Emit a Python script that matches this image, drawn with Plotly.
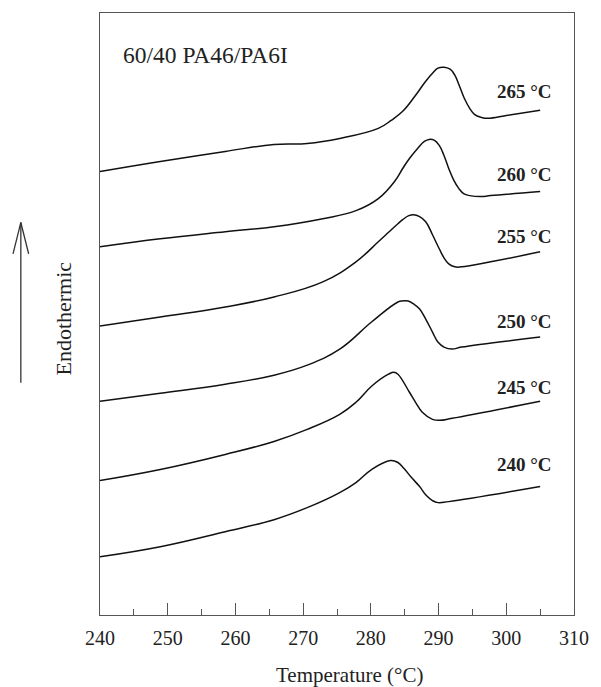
import plotly.graph_objects as go

# Temperature axis values (°C) and heat-flow (arbitrary units) for each annealing temperature
x_265 = [240, 248.9, 258.5, 265.7, 270.6, 275.4, 281.1, 283.0, 284.7, 286.5, 288.1, 289.1, 289.9, 290.8, 291.7, 292.4, 293.1, 293.8, 294.6, 295.3, 296.3, 297.3, 300.2, 305]
y_265 = [44.2, 45.2, 46.2, 46.9, 47.0, 47.5, 48.5, 49.3, 50.2, 51.7, 53.2, 54.0, 54.5, 54.6, 54.4, 53.8, 52.7, 51.5, 50.5, 49.9, 49.6, 49.5, 49.8, 50.3]

x_260 = [240, 248.9, 258.5, 265.7, 272.9, 277.8, 281.1, 283.6, 284.7, 285.7, 286.9, 287.9, 288.6, 289.4, 290.1, 290.8, 291.5, 292.2, 293.0, 293.7, 294.6, 296.3, 297.7, 305]
y_260 = [36.7, 37.5, 38.2, 38.7, 39.5, 40.3, 41.5, 43.3, 44.5, 45.5, 46.5, 47.2, 47.4, 47.3, 46.8, 45.8, 44.5, 43.4, 42.5, 42.0, 41.8, 41.7, 41.8, 42.2]

x_255 = [240, 248.9, 258.5, 265.7, 272.9, 277.8, 281.1, 282.7, 284.0, 284.7, 285.6, 286.3, 287.2, 288.1, 289.1, 290.1, 290.8, 291.5, 292.4, 293.4, 297.7, 305]
y_255 = [28.8, 29.7, 30.7, 31.7, 33.2, 35.2, 37.2, 38.2, 39.0, 39.4, 39.8, 39.9, 39.7, 39.2, 37.9, 36.5, 35.6, 35.0, 34.7, 34.7, 35.2, 36.2]

x_250 = [240, 248.9, 258.5, 265.7, 270.6, 275.4, 280.1, 284.0, 284.7, 285.5, 286.3, 287.2, 288.1, 289.1, 289.9, 290.8, 292.0, 293.4, 305]
y_250 = [21.3, 22.1, 23.0, 23.9, 24.9, 26.5, 29.2, 31.2, 31.3, 31.3, 31.0, 30.5, 29.5, 28.2, 27.2, 26.7, 26.5, 26.7, 27.7]

x_245 = [240, 248.9, 258.5, 265.7, 270.6, 275.4, 277.8, 280.1, 282.6, 283.4, 284.0, 285.7, 286.6, 287.6, 289.1, 290.2, 292.0, 305]
y_245 = [13.4, 14.5, 16.0, 17.3, 18.5, 20.0, 21.2, 22.8, 24.0, 24.2, 24.0, 22.2, 21.2, 20.2, 19.5, 19.4, 19.6, 21.3]

x_240 = [240, 248.9, 258.5, 265.7, 270.6, 275.4, 277.8, 280.1, 282.9, 284.0, 284.9, 286.0, 287.2, 288.2, 289.1, 289.9, 291.5, 305]
y_240 = [5.8, 6.8, 8.3, 9.5, 10.7, 12.2, 13.2, 14.5, 15.4, 15.2, 14.6, 13.7, 12.8, 11.9, 11.4, 11.2, 11.3, 12.8]

series_labels = ["265 °C", "260 °C", "255 °C", "250 °C", "245 °C", "240 °C"]
label_y = [52.2, 43.9, 37.7, 29.3, 22.7, 15.0]
label_x = 307.0

x_ticks = [240, 250, 260, 270, 280, 290, 300, 310]

FONT = "Liberation Serif, Times New Roman, serif"
TXT = "#222222"
AX = "#555555"

fig = go.Figure()
for xs, ys in [(x_265, y_265), (x_260, y_260), (x_255, y_255), (x_250, y_250), (x_245, y_245), (x_240, y_240)]:
    fig.add_trace(go.Scatter(x=xs, y=ys, mode="lines",
                             line=dict(color="#111111", width=1.5, shape="spline", smoothing=1.2),
                             showlegend=False, hoverinfo="skip"))

annotations = []
for lab, ly in zip(series_labels, label_y):
    annotations.append(dict(x=label_x, y=ly, xref="x", yref="y", text="<b>" + lab + "</b>",
                            showarrow=False, xanchor="right", yanchor="middle",
                            font=dict(family=FONT, size=19, color=TXT)))
annotations.append(dict(x=243.1, y=55.8, xref="x", yref="y", text="60/40 PA46/PA6I",
                        showarrow=False, xanchor="left", yanchor="middle",
                        font=dict(family=FONT, size=23.5, color=TXT)))
annotations.append(dict(x=0.526, y=-0.0995, xref="paper", yref="paper", text="Temperature (°C)",
                        showarrow=False, xanchor="center", yanchor="middle",
                        font=dict(family=FONT, size=21, color=TXT)))
annotations.append(dict(x=-0.078, y=0.4925, xref="paper", yref="paper", text="Endothermic",
                        showarrow=False, xanchor="center", yanchor="middle", textangle=-90,
                        font=dict(family=FONT, size=22, color=TXT)))

arrow = dict(type="line", xref="paper", yref="paper", line=dict(color="#333333", width=1.3))
shapes = [
    dict(arrow, x0=-0.167, y0=0.386, x1=-0.167, y1=0.652),
    dict(arrow, x0=-0.167, y0=0.652, x1=-0.1835, y1=0.600),
    dict(arrow, x0=-0.167, y0=0.652, x1=-0.1505, y1=0.600),
]

fig.update_layout(
    width=601, height=687,
    margin=dict(l=100, r=16, t=12, b=72),
    paper_bgcolor="white", plot_bgcolor="white",
    annotations=annotations, shapes=shapes,
    font=dict(family=FONT, color=TXT),
    xaxis=dict(range=[240, 310], tickvals=x_ticks, ticktext=[str(v) for v in x_ticks],
               ticks="inside", ticklen=12, tickwidth=1.2, tickcolor=AX,
               minor=dict(ticks="inside", ticklen=6, tickwidth=1.2, tickcolor=AX, dtick=5, tick0=240),
               showline=True, linecolor=AX, linewidth=1.2, mirror=True,
               showgrid=False, zeroline=False, tickfont=dict(family=FONT, size=20, color=TXT),
               ticklabelstandoff=5),
    yaxis=dict(range=[0, 60], showticklabels=False, ticks="", showline=True, linecolor=AX,
               linewidth=1.2, mirror=True, showgrid=False, zeroline=False),
)

fig.write_html("out.html", config={"displayModeBar": False},
               post_script="document.body.style.margin='0';document.body.style.overflow='hidden';")
